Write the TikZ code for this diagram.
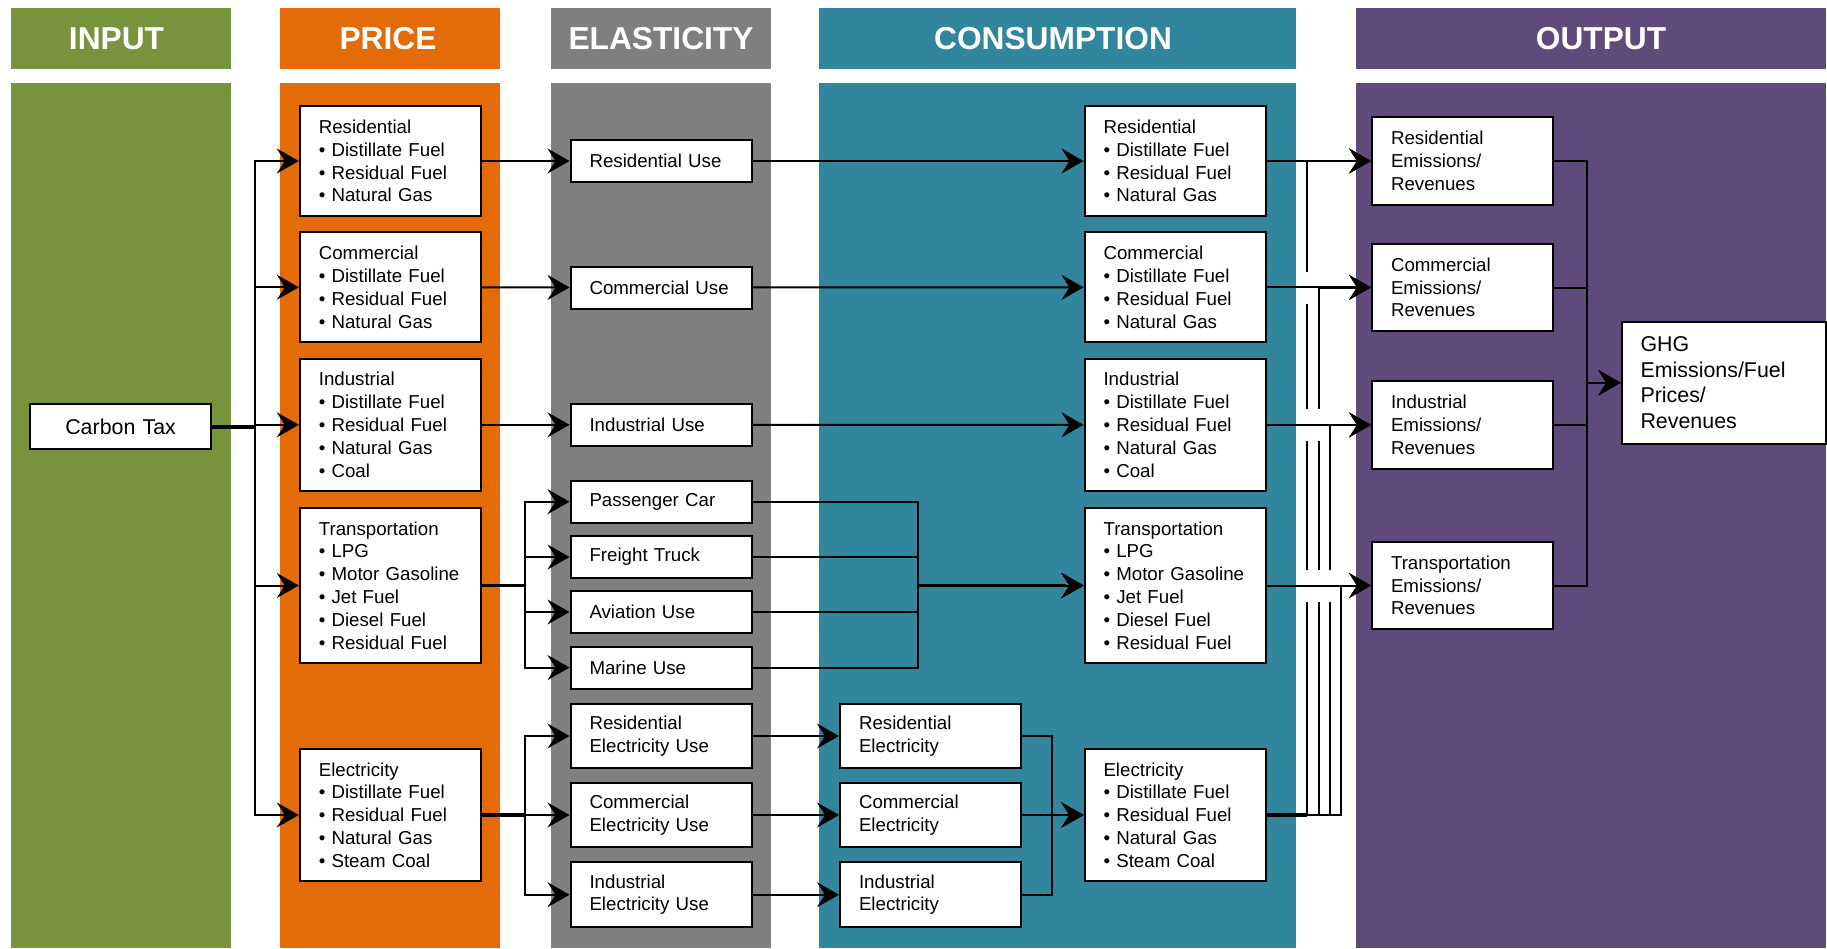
\documentclass[tikz,border=0pt]{standalone}
\usepackage{fontspec}
\setmainfont{Liberation Sans}
\usetikzlibrary{arrows.meta,calc}

\definecolor{inputgreen}{HTML}{77933C}
\definecolor{priceorange}{HTML}{E36C09}
\definecolor{elastgray}{HTML}{7F7F7F}
\definecolor{consteal}{HTML}{31859C}
\definecolor{outpurple}{HTML}{604A7B}

\begin{document}
\begin{tikzpicture}[
                x=1pt,y=-1pt,
                line width=2pt,
                head/.style={align=center,text=white,inner sep=0pt,
                    font=\fontsize{31.7pt}{36pt}\selectfont\bfseries},
                box/.style={draw,fill=white,align=left,text width=143pt,inner xsep=19pt,inner ysep=3pt,
                    line width=2pt,font=\fontsize{18.7pt}{22.8pt}\selectfont},
                link/.style={-{Stealth[length=22pt,width=25pt,inset=8pt]},line width=2pt},
                trunk/.style={line width=3.6pt}] %

                    \useasboundingbox (0,0) rectangle (1827,948);

                    % columns
                    \fill[inputgreen]  (11,8)   rectangle (231,69);   \fill[inputgreen]  (11,83)   rectangle (231,948);
                    \fill[priceorange] (280,8)  rectangle (500,69);   \fill[priceorange] (280,83)  rectangle (500,948);
                    \fill[elastgray]   (551,8)  rectangle (771,69);   \fill[elastgray]   (551,83)  rectangle (771,948);
                    \fill[consteal]    (819,8)  rectangle (1296,69);  \fill[consteal]    (819,83)  rectangle (1296,948);
                    \fill[outpurple]   (1356,8) rectangle (1826,69);  \fill[outpurple]   (1356,83) rectangle (1826,948);

                    \node[head] (HeadInput) at (116.5,38.5) {INPUT};
                    \node[head] (HeadPrice) at (388,38.5)   {PRICE};
                    \node[head] (HeadElast) at (661,38.5)   {ELASTICITY};
                    \node[head] (HeadCons)  at (1053,38.5)  {CONSUMPTION};
                    \node[head] (HeadOut)   at (1601,38.5)  {OUTPUT};

                    % 1 input
                    \node[box,align=center,minimum height=45pt,font=\fontsize{21.4pt}{25pt}\selectfont] (CarbonTax) at (120.6,426.8) {Carbon Tax};

                    % 2 price
                    \node[box,minimum height=110pt] (PriceRes) at (390.3,161)   {Residential\\• Distillate Fuel\\• Residual Fuel\\• Natural Gas};
                    \node[box,minimum height=110pt] (PriceCom) at (390.3,287.3) {Commercial\\• Distillate Fuel\\• Residual Fuel\\• Natural Gas};
                    \node[box,minimum height=132pt] (PriceInd) at (390.3,424.8) {Industrial\\• Distillate Fuel\\• Residual Fuel\\• Natural Gas\\• Coal};
                    \node[box,minimum height=155pt] (PriceTra) at (390.3,585.5) {Transportation\\• LPG\\• Motor Gasoline\\• Jet Fuel\\• Diesel Fuel\\• Residual Fuel};
                    \node[box,minimum height=132pt] (PriceEle) at (390.3,815)   {Electricity\\• Distillate Fuel\\• Residual Fuel\\• Natural Gas\\• Steam Coal};

                    % 3 elasticity
                    \node[box,minimum height=42pt] (ElaRes)   at (661,161)   {Residential Use};
                    \node[box,minimum height=42pt] (ElaCom)   at (661,287.5) {Commercial Use};
                    \node[box,minimum height=42pt] (ElaInd)   at (661,425)   {Industrial Use};
                    \node[box,minimum height=42pt] (ElaCar)   at (661,501.7) {Passenger Car};
                    \node[box,minimum height=42pt] (ElaTruck) at (661,557)   {Freight Truck};
                    \node[box,minimum height=42pt] (ElaAir)   at (661,612)   {Aviation Use};
                    \node[box,minimum height=42pt] (ElaSea)   at (661,667.5) {Marine Use};
                    \node[box,minimum height=64.6pt] (ElaResEl) at (661,736)   {Residential\\Electricity Use};
                    \node[box,minimum height=64.6pt] (ElaComEl) at (661,815)   {Commercial\\Electricity Use};
                    \node[box,minimum height=64.6pt] (ElaIndEl) at (661,894.7) {Industrial\\Electricity Use};

                    % 4 consumption
                    \node[box,minimum height=64.6pt] (ConResEl) at (930.5,736)   {Residential\\Electricity};
                    \node[box,minimum height=64.6pt] (ConComEl) at (930.5,815)   {Commercial\\Electricity};
                    \node[box,minimum height=64.6pt] (ConIndEl) at (930.5,894.7) {Industrial\\Electricity};

                    \node[box,minimum height=110pt] (ConRes) at (1175,161)   {Residential\\• Distillate Fuel\\• Residual Fuel\\• Natural Gas};
                    \node[box,minimum height=110pt] (ConCom) at (1175,287.3) {Commercial\\• Distillate Fuel\\• Residual Fuel\\• Natural Gas};
                    \node[box,minimum height=132pt] (ConInd) at (1175,424.8) {Industrial\\• Distillate Fuel\\• Residual Fuel\\• Natural Gas\\• Coal};
                    \node[box,minimum height=155pt] (ConTra) at (1175,585.5) {Transportation\\• LPG\\• Motor Gasoline\\• Jet Fuel\\• Diesel Fuel\\• Residual Fuel};
                    \node[box,minimum height=132pt] (ConEle) at (1175,815)   {Electricity\\• Distillate Fuel\\• Residual Fuel\\• Natural Gas\\• Steam Coal};

                    % 5 output
                    \node[box,minimum height=87.3pt] (OutRes) at (1462.5,161)   {Residential\\Emissions/\\Revenues};
                    \node[box,minimum height=87.3pt] (OutCom) at (1462.5,287.5) {Commercial\\Emissions/\\Revenues};
                    \node[box,minimum height=87.3pt] (OutInd) at (1462.5,425)   {Industrial\\Emissions/\\Revenues};
                    \node[box,minimum height=87.3pt] (OutTra) at (1462.5,585.5) {Transportation\\Emissions/\\Revenues};
                    \node[box,text width=166pt,minimum height=122.3pt,font=\fontsize{21.4pt}{25.6pt}\selectfont] (GHG) at (1723.5,382.8) {GHG\\Emissions/Fuel\\Prices/\\Revenues};

                    % bus lines
                    \coordinate (BusIn)  at (255,0);
                    \coordinate (BusTra) at (525,0);
                    \coordinate (BusCar) at (918,0);
                    \coordinate (BusEl)  at (1052,0);
                    \coordinate (J1)     at (1307,0);
                    \coordinate (J2)     at (1319,0);
                    \coordinate (J3)     at (1330,0);
                    \coordinate (J4)     at (1341,0);
                    \coordinate (BusOut) at (1587,0);

                    \draw[link] (CarbonTax.east) -- (CarbonTax.east -| BusIn) |- (PriceRes.west);
                    \draw[link] (CarbonTax.east) -- (CarbonTax.east -| BusIn) |- (PriceCom.west);
                    \draw[link] (CarbonTax.east) -- (CarbonTax.east -| BusIn) |- (PriceInd.west);
                    \draw[link] (CarbonTax.east) -- (CarbonTax.east -| BusIn) |- (PriceTra.west);
                    \draw[link] (CarbonTax.east) -- (CarbonTax.east -| BusIn) |- (PriceEle.west);
                    \draw[trunk] (CarbonTax.east) -- (CarbonTax.east -| BusIn);

                    \draw[link] (PriceRes) to (ElaRes);
                    \draw[link] (PriceCom) to (ElaCom);
                    \draw[link] (PriceInd.east) -- (PriceInd.east -| ElaInd.west);
                    \draw[link] (PriceTra.east) -- (PriceTra.east -| BusTra) |- (ElaCar.west);
                    \draw[link] (PriceTra.east) -- (PriceTra.east -| BusTra) |- (ElaTruck.west);
                    \draw[link] (PriceTra.east) -- (PriceTra.east -| BusTra) |- (ElaAir.west);
                    \draw[link] (PriceTra.east) -- (PriceTra.east -| BusTra) |- (ElaSea.west);
                    \draw[trunk] (PriceTra.east) -- (PriceTra.east -| BusTra);
                    \draw[link] (PriceEle.east) -- (PriceEle.east -| BusTra) |- (ElaResEl.west);
                    \draw[link] (PriceEle.east) -- (PriceEle.east -| BusTra) |- (ElaComEl.west);
                    \draw[link] (PriceEle.east) -- (PriceEle.east -| BusTra) |- (ElaIndEl.west);
                    \draw[trunk] (PriceEle.east) -- (PriceEle.east -| BusTra);

                    \draw[link] (ElaRes) to (ConRes);
                    \draw[link] (ElaCom) to (ConCom);
                    \draw[link] (ElaInd) to (ConInd);
                    \draw[link] (ElaCar.east)   -| (ConTra.west -| BusCar) -- (ConTra.west);
                    \draw[link] (ElaTruck.east) -| (ConTra.west -| BusCar) -- (ConTra.west);
                    \draw[link] (ElaAir.east)   -| (ConTra.west -| BusCar) -- (ConTra.west);
                    \draw[link] (ElaSea.east)   -| (ConTra.west -| BusCar) -- (ConTra.west);
                    \draw[trunk,shorten >=18pt] (ConTra.west -| BusCar) -- (ConTra.west);
                    \draw[link] (ElaResEl) to (ConResEl);
                    \draw[link] (ElaComEl) to (ConComEl);
                    \draw[link] (ElaIndEl) to (ConIndEl);
                    \draw[link] (ConResEl.east) -| (ConEle.west -| BusEl) -- (ConEle.west);
                    \draw[link] (ConComEl.east) -| (ConEle.west -| BusEl) -- (ConEle.west);
                    \draw[link] (ConIndEl.east) -| (ConEle.west -| BusEl) -- (ConEle.west);

                    % electricity to every output
                    \draw[link] (ConEle.east) -| (OutRes.west -| J1) -- (OutRes.west);
                    \draw[link] (ConEle.east) -| (OutCom.west -| J2) -- (OutCom.west);
                    \draw[link] (ConEle.east) -| (OutInd.west -| J3) -- (OutInd.west);
                    \draw[link] (ConEle.east) -| (OutTra.west -| J4) -- (OutTra.west);
                    \draw[trunk] (ConEle.east) -- (ConEle.east -| J1);

                    % jumps
                    \foreach \jx/\jn in {J1/OutCom,J1/OutInd,J2/OutInd,J1/OutTra,J2/OutTra,J3/OutTra}
                        \fill[white] ($(\jn.west -| \jx)+(-4,-16)$) rectangle ($(\jn.west -| \jx)+(4,16)$);

                    \draw[link] (ConRes.east) -- (ConRes.east -| OutRes.west);
                    \draw[link] (ConCom.east) -- (ConCom.east -| OutCom.west);
                    \draw[link] (ConInd.east) -- (ConInd.east -| OutInd.west);
                    \draw[link] (ConTra) to (OutTra);

                    \draw[link] (OutRes.east) -| (GHG.west -| BusOut) -- (GHG.west);
                    \draw[link] (OutCom.east) -| (GHG.west -| BusOut) -- (GHG.west);
                    \draw[link] (OutInd.east) -| (GHG.west -| BusOut) -- (GHG.west);
                    \draw[link] (OutTra.east) -| (GHG.west -| BusOut) -- (GHG.west);

                    \end{tikzpicture}
\end{document}
